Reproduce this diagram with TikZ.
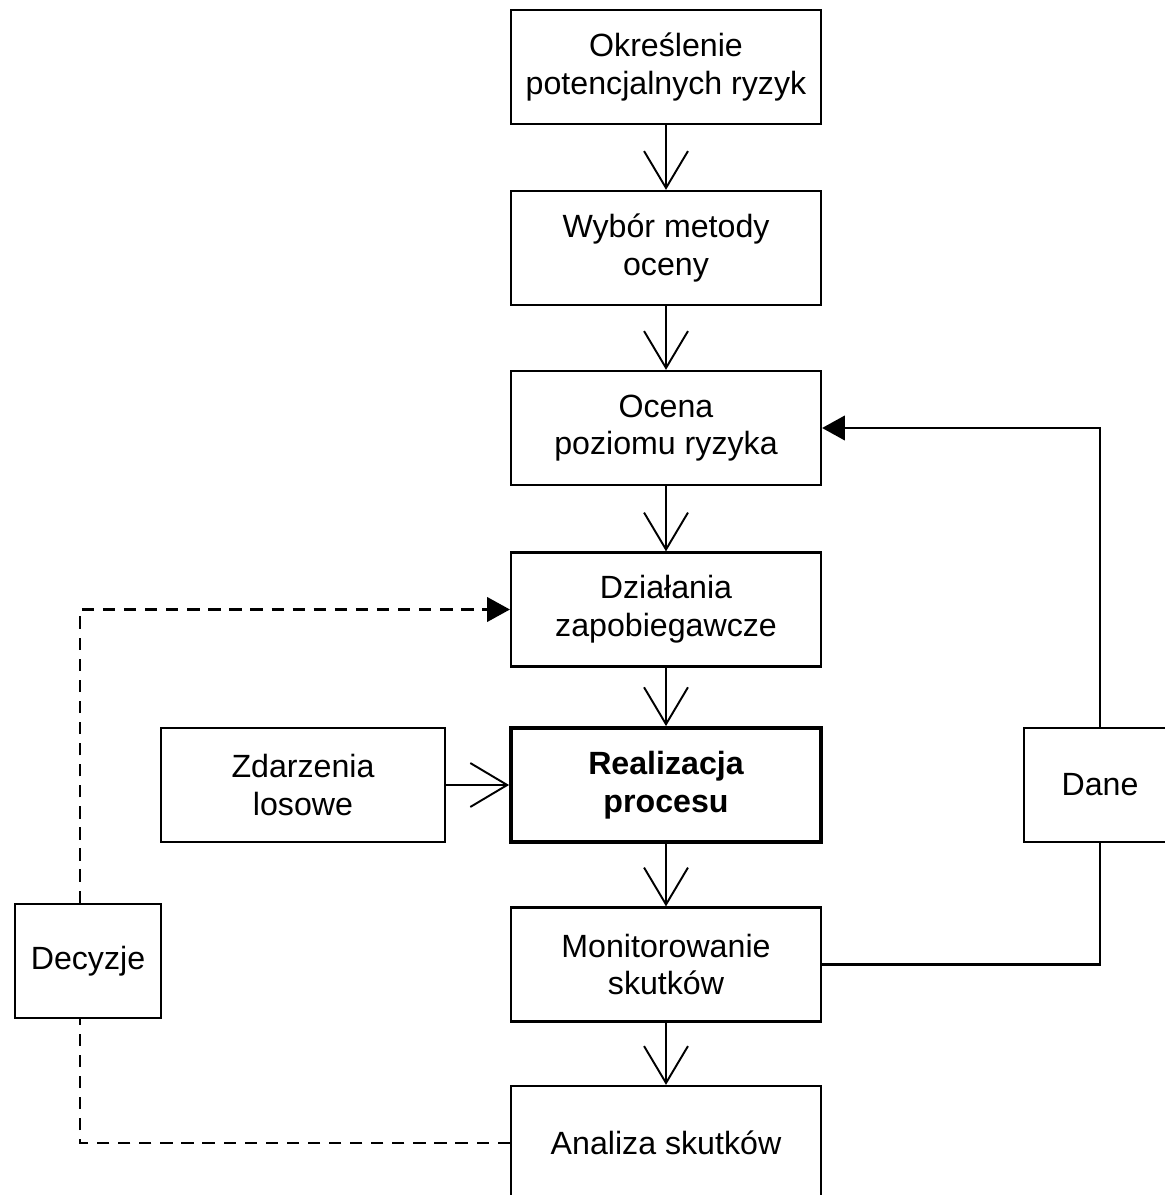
\documentclass[tikz,border=0pt]{standalone}
\usepackage{fontspec}
\setmainfont{Liberation Sans}
\usetikzlibrary{arrows.meta}
\tikzset{
  blok/.style={draw, line width=1.3pt, minimum width=6.2cm, minimum height=2.28cm,
    align=center, inner sep=0pt, font=\fontsize{18.3}{21.5}\selectfont},
  strz/.style={line width=1.1pt, -{Straight Barb[length=21pt,width=25pt,line width=1.1pt]}},
  linia/.style={line width=1.3pt},
  pelna/.style={line width=1.3pt, -{Triangle[length=13pt,width=14pt]}},
  przer/.style={line width=1.3pt, dash pattern=on 7pt off 5pt},
}
\begin{document}
\begin{tikzpicture}[x=0.02cm,y=-0.02cm]
\useasboundingbox (0,0) rectangle (1164,1195);
% main column
\node[blok] (b1) at (666,67) {Określenie\\potencjalnych ryzyk};
\node[blok] (b2) at (666,248) {Wybór metody\\oceny};
\node[blok] (b3) at (666,428) {Ocena\\poziomu ryzyka};
\node[blok] (b4) at (666,609.5) {Działania\\zapobiegawcze};
\node[blok, line width=2.2pt, font=\fontsize{18.3}{21.5}\selectfont\bfseries] (b5) at (666,785) {Realizacja\\procesu};
\node[blok] (b6) at (666,964.5) {Monitorowanie\\skutków};
\node[blok] (b7) at (666,1143) {Analiza skutków};
% side boxes
\node[blok, minimum width=5.68cm] (zd) at (303,785) {Zdarzenia\\losowe};
\node[blok, minimum width=3.04cm] (dane) at (1100,785) {Dane};
\node[blok, minimum width=2.92cm] (dec) at (88,961) {Decyzje};
\coordinate (lx) at (80,0);

\foreach \a/\b in {b1/b2,b2/b3,b3/b4,b4/b5,b5/b6,b6/b7}
  \draw[strz] (\a) -- (\b);
\draw[strz] (zd.east) -- (b5.west);

% feedback
\draw[linia] (b6.east) -| (dane.south);
\draw[pelna] (dane.north) |- (b3.east);
\draw[przer] (b7.west) -| (dec.south -| lx);
\draw[przer, -{Triangle[length=13pt,width=14pt]}] (dec.north -| lx) |- (b4.west);

\end{tikzpicture}
\end{document}
